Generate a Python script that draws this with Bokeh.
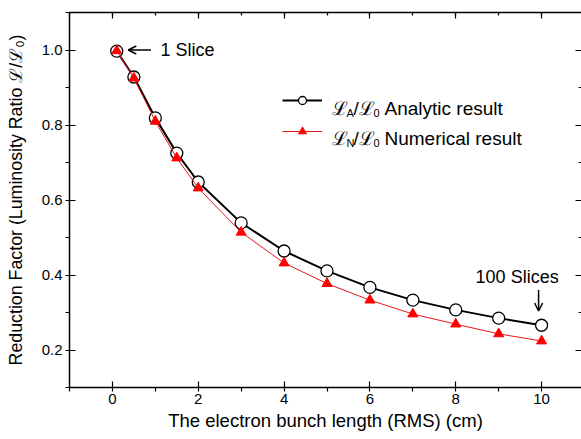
from bokeh.plotting import figure
from bokeh.models import (LinearAxis, SingleIntervalTicker, Range1d, Legend, LegendItem,
                          Label, Arrow, OpenHead, CustomJSTickFormatter, PrintfTickFormatter)
from bokeh.embed import file_html
from bokeh.resources import INLINE

# ---- data ----
x_analytic = [0.1, 0.5, 1, 1.5, 2, 3, 4, 5, 6, 7, 8, 9, 10]
y_analytic = [0.997, 0.928, 0.819, 0.725, 0.648, 0.539, 0.464, 0.411, 0.367, 0.333, 0.307, 0.285, 0.266]
x_numerical = [0.1, 0.5, 1, 1.5, 2, 3, 4, 5, 6, 7, 8, 9, 10]
y_numerical = [0.998, 0.925, 0.810, 0.712, 0.632, 0.514, 0.432, 0.377, 0.333, 0.296, 0.269, 0.243, 0.224]

x_label = "The electron bunch length (RMS) (cm)"
y_label = "Reduction Factor (Luminosity Ratio \u2112/\u2112\u2080)"

FONT = "Liberation Sans"

p = figure(width=581, height=439, output_backend="svg", toolbar_location=None,
           x_range=Range1d(-1, 10.93), y_range=Range1d(0.1, 1.1),
           min_border=0, min_border_left=69, min_border_right=0, min_border_top=12,
           min_border_bottom=52,
           x_axis_label=x_label, y_axis_label=y_label)
p.outline_line_color = None
p.grid.visible = False
p.background_fill_color = "white"
p.border_fill_color = "white"

xt = SingleIntervalTicker(interval=2, num_minor_ticks=2)
yt = SingleIntervalTicker(interval=0.2, num_minor_ticks=2)

for ax, tk in ((p.xaxis[0], xt), (p.yaxis[0], yt)):
    ax.ticker = tk
    ax.axis_line_width = 1.5
    ax.axis_line_color = "black"
    ax.major_tick_line_color = "black"
    ax.minor_tick_line_color = "black"
    ax.major_tick_line_width = 1.2
    ax.minor_tick_line_width = 1.2
    ax.major_tick_in = 6
    ax.major_tick_out = 0
    ax.minor_tick_in = 0
    ax.minor_tick_out = 4
    ax.major_label_text_font = FONT
    ax.major_label_text_font_size = "15px"
    ax.major_label_text_color = "black"
    ax.axis_label_text_font = FONT
    ax.axis_label_text_font_style = "normal"
    ax.axis_label_text_color = "black"

p.xaxis[0].axis_label_text_font_size = "18.5px"
p.yaxis[0].axis_label_text_font_size = "17.8px"
p.yaxis[0].formatter = PrintfTickFormatter(format="%.1f")
p.xaxis[0].major_label_standoff = 2
p.xaxis[0].axis_label_standoff = 3
p.yaxis[0].major_label_standoff = 3
p.yaxis[0].axis_label_standoff = 13

blank = CustomJSTickFormatter(code="return ''")
for loc, tk, line_col in (("above", xt, "black"), ("right", yt, None)):
    ax = LinearAxis(ticker=tk, formatter=blank, major_label_text_font_size="0px",
                    major_label_standoff=0, axis_label_standoff=0, axis_line_width=1.5,
                    axis_line_color=line_col,
                    major_tick_in=6, major_tick_out=0, minor_tick_in=3, minor_tick_out=0,
                    major_tick_line_width=1.2, minor_tick_line_width=1.2)
    p.add_layout(ax, loc)

# ---- series ----
line_a = p.line(x_analytic, y_analytic, line_color="black", line_width=2)
circ_a = p.scatter(x_analytic, y_analytic, marker="circle", size=12,
                   line_color="black", line_width=1.3, fill_color="white")
line_n = p.line(x_numerical, y_numerical, line_color="#e8151b", line_width=1)
tri_n = p.scatter(x_numerical, y_numerical, marker="triangle", size=10,
                  line_color="#ff0000", fill_color="#ff0000")

legend = Legend(items=[LegendItem(label=" ", renderers=[line_a, circ_a]),
                       LegendItem(label=" ", renderers=[line_n, tri_n])],
                location=(213, 246), glyph_width=40, glyph_height=20, spacing=11,
                padding=0, margin=0, border_line_color=None, background_fill_alpha=0,
                label_width=0, label_standoff=0, label_text_font_size="1px")
p.add_layout(legend)

# legend texts with subscripts
def leg_text(y, sub, desc):
    parts = [("\u2112", 0, 0, "19px"), (sub, 14, -5, "11px"), ("/", 21, 0, "19px"),
             ("\u2112", 27, 0, "19px"), ("0", 41, -5, "11px"), (desc, 52, 0, "19px")]
    for txt, dx, dy, fs in parts:
        p.add_layout(Label(x=5.128, y=y, x_offset=dx, y_offset=dy, text=txt,
                           text_font=FONT, text_font_size=fs, text_color="black",
                           text_baseline="alphabetic", text_align="left"))

leg_text(0.8453, "A", "Analytic result")
leg_text(0.7653, "N", "Numerical result")

# annotations
p.add_layout(Arrow(end=OpenHead(size=8, line_width=1.5, line_color="black"),
                   x_start=0.9, y_start=1.0, x_end=0.37, y_end=1.0,
                   line_width=1.5, line_color="black"))
p.add_layout(Label(x=1.12, y=1.0, text="1 Slice", text_font=FONT, text_font_size="18px",
                   text_baseline="middle", text_color="black"))
p.add_layout(Label(x=9.43, y=0.395, text="100 Slices", text_font=FONT, text_font_size="18px",
                   text_baseline="middle", text_align="center", text_color="black"))
p.add_layout(Arrow(end=OpenHead(size=8, line_width=1.5, line_color="black"),
                   x_start=9.93, y_start=0.36, x_end=9.93, y_end=0.304,
                   line_width=1.5, line_color="black"))

open("out.html", "w").write(file_html(p, INLINE))
